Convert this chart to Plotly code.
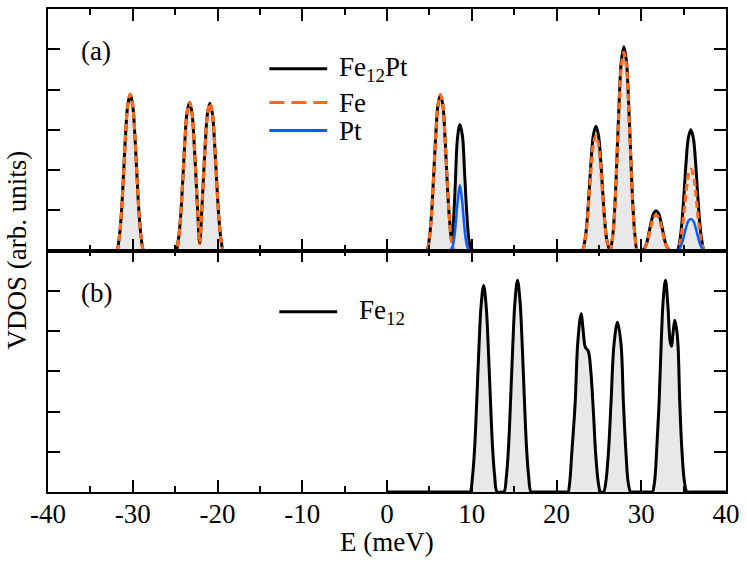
import plotly.graph_objects as go
from plotly.subplots import make_subplots

# (a) Fe12Pt total VDOS (black)
fe12pt_x = [-37.2,
            -32.2, -31.9, -31.6, -31.35, -31.1, -30.85, -30.6, -30.3, -30.0, -29.75, -29.5, -29.25, -29.0, -28.7, -28.4,
            -25.2, -24.9, -24.6, -24.35, -24.1, -23.85, -23.6, -23.3, -23.0, -22.75, -22.5, -22.3, -22.1, -21.9, -21.7,
            -21.45, -21.2, -20.9, -20.6, -20.35, -20.1, -19.85, -19.6, -19.3, -19.0,
            4.4, 4.7, 5.0, 5.25, 5.5, 5.75, 6.0, 6.3, 6.6, 6.85, 7.1, 7.35, 7.65, 7.85, 8.05, 8.3, 8.6, 8.9, 9.15, 9.4,
            9.65, 9.9, 10.2, 10.5,
            22.75, 23.05, 23.35, 23.6, 23.85, 24.1, 24.35, 24.65, 24.95, 25.2, 25.45, 25.7, 25.95, 26.3, 26.65, 26.9,
            27.15, 27.4, 27.65, 27.95, 28.25, 28.5, 28.75, 29.0, 29.25, 29.55, 29.85,
            30.15, 30.45, 30.7, 30.95, 31.2, 31.45, 31.75, 32.05, 32.3, 32.55, 32.8, 33.05, 33.35, 33.65,
            33.95, 34.25, 34.55, 34.8, 35.05, 35.3, 35.55, 35.85, 36.15, 36.4, 36.65, 36.9, 37.15, 37.45, 37.75, 40.0]
fe12pt_y = [0,
            0, 0, 0.31, 0.9, 1.85, 2.87, 3.6, 3.88, 3.6, 2.87, 1.85, 0.9, 0.31, 0, 0,
            0, 0, 0.29, 0.85, 1.75, 2.72, 3.42, 3.68, 3.4, 2.65, 1.66, 0.8, 0.17, 0.8, 1.65,
            2.62, 3.38, 3.66, 3.4, 2.7, 1.74, 0.85, 0.29, 0, 0,
            0, 0, 0.31, 0.9, 1.84, 2.86, 3.59, 3.87, 3.59, 2.8, 1.74, 0.85, 0.22, 0.75, 1.6, 2.75, 3.13, 2.85, 1.95, 0.97,
            0.3, 0.05, 0, 0,
            0, 0, 0.25, 0.72, 1.47, 2.28, 2.87, 3.09, 2.87, 2.28, 1.47, 0.72, 0.25, 0, 0.4, 1.17,
            2.41, 3.74, 4.7, 5.06, 4.7, 3.74, 2.41, 1.17, 0.4, 0, 0,
            0, 0.08, 0.23, 0.48, 0.73, 0.92, 0.99, 0.92, 0.73, 0.48, 0.23, 0.08, 0, 0,
            0, 0, 0.24, 0.7, 1.43, 2.22, 2.79, 3.0, 2.79, 2.22, 1.43, 0.7, 0.24, 0, 0, 0]

# (a) Fe partial VDOS (orange dashed)
fe_x = [-37.2,
        -32.2, -31.9, -31.6, -31.35, -31.1, -30.85, -30.6, -30.3, -30.0, -29.75, -29.5, -29.25, -29.0, -28.7, -28.4,
        -25.2, -24.9, -24.6, -24.35, -24.1, -23.85, -23.6, -23.3, -23.0, -22.75, -22.5, -22.3, -22.1, -21.9, -21.7,
        -21.45, -21.2, -20.9, -20.6, -20.35, -20.1, -19.85, -19.6, -19.3, -19.0,
        4.4, 4.7, 5.0, 5.25, 5.5, 5.75, 6.0, 6.3, 6.6, 6.85, 7.1, 7.35, 7.6, 7.9, 8.2,
        22.75, 23.05, 23.35, 23.6, 23.85, 24.1, 24.35, 24.65, 24.95, 25.2, 25.45, 25.7, 25.95, 26.3, 26.65, 26.9,
        27.15, 27.4, 27.65, 27.95, 28.25, 28.5, 28.75, 29.0, 29.25, 29.55, 29.85,
        30.15, 30.45, 30.7, 30.95, 31.2, 31.45, 31.75, 32.05, 32.3, 32.55, 32.8, 33.05, 33.35, 33.65,
        33.95, 34.25, 34.55, 34.8, 35.05, 35.3, 35.55, 35.85, 36.15, 36.4, 36.65, 36.9, 37.15, 37.45, 37.75, 40.0]
fe_y = [0,
        0, 0, 0.31, 0.9, 1.85, 2.87, 3.6, 3.88, 3.6, 2.87, 1.85, 0.9, 0.31, 0, 0,
        0, 0, 0.29, 0.85, 1.75, 2.72, 3.42, 3.68, 3.4, 2.65, 1.66, 0.8, 0.17, 0.8, 1.65,
        2.62, 3.38, 3.66, 3.4, 2.7, 1.74, 0.85, 0.29, 0, 0,
        0, 0, 0.31, 0.9, 1.84, 2.86, 3.59, 3.87, 3.59, 2.8, 1.74, 0.85, 0.25, 0.02, 0,
        0, 0, 0.23, 0.66, 1.35, 2.1, 2.64, 2.85, 2.64, 2.1, 1.35, 0.66, 0.23, 0, 0.39, 1.13,
        2.34, 3.64, 4.57, 4.92, 4.57, 3.64, 2.34, 1.13, 0.39, 0, 0,
        0, 0.07, 0.2, 0.42, 0.65, 0.82, 0.88, 0.82, 0.65, 0.42, 0.2, 0.07, 0, 0,
        0, 0, 0.16, 0.47, 0.96, 1.49, 1.88, 2.02, 1.88, 1.49, 0.96, 0.47, 0.16, 0, 0, 0]

# (a) Pt partial VDOS (blue)
pt_x = [-37.2, 7.1, 7.4, 7.7, 7.95, 8.15, 8.35, 8.6, 8.85, 9.05, 9.25, 9.5, 9.8, 10.1,
        33.95, 34.25, 34.55, 34.8, 35.05, 35.3, 35.55, 35.85, 36.15, 36.4, 36.65, 36.9, 37.15, 37.45, 37.75, 40.0]
pt_y = [0, 0, 0, 0.08, 0.35, 0.78, 1.25, 1.62, 1.25, 0.78, 0.35, 0.08, 0, 0,
        0, 0, 0.06, 0.18, 0.37, 0.58, 0.73, 0.78, 0.73, 0.58, 0.37, 0.18, 0.06, 0, 0, 0]

# (b) Fe12 VDOS
fe12_x = [0.0, 9.5, 9.8, 10.1, 10.35, 10.6, 10.85, 11.1, 11.4, 11.7, 11.95, 12.2, 12.45, 12.7, 13.0, 13.5,
          13.8, 14.1, 14.35, 14.6, 14.85, 15.1, 15.4, 15.7, 15.95, 16.2, 16.45, 16.7, 17.0, 17.3,
          21.05, 21.35, 21.55, 21.8, 22.2, 22.5, 22.9, 23.15, 23.4, 23.75, 24.05, 24.35, 24.62, 24.94, 25.2,
          25.55, 25.8, 26.12, 26.43, 26.79, 27.2, 27.61, 27.9, 28.2, 28.47, 28.75, 29.05,
          31.0, 31.3, 31.55, 31.8, 32.1, 32.35, 32.6, 32.86, 33.15, 33.4, 33.57, 33.75, 33.96, 34.2, 34.35,
          34.55, 34.82, 35.1, 35.4, 35.7, 40.0]
fe12_y = [0, 0, 0, 0.41, 1.13, 2.31, 3.59, 4.62, 5.13, 4.62, 3.59, 2.31, 1.13, 0.41, 0, 0,
          0, 0.42, 1.16, 2.37, 3.68, 4.73, 5.26, 4.73, 3.68, 2.37, 1.16, 0.42, 0, 0,
          0, 0, 0.22, 0.96, 2.2, 3.68, 4.43, 4.0, 3.6, 3.5, 3.0, 2.0, 0.96, 0.22, 0,
          0, 0.22, 0.96, 2.2, 3.68, 4.22, 3.68, 2.2, 0.96, 0.22, 0, 0,
          0, 0, 0.22, 0.96, 2.2, 3.68, 4.8, 5.26, 4.6, 3.75, 3.62, 3.95, 4.27, 4.0, 3.6,
          2.2, 0.96, 0.25, 0, 0, 0]

x_major = [-40, -30, -20, -10, 0, 10, 20, 30, 40]
x_labels = ["-40", "-30", "-20", "-10", "0", "10", "20", "30", "40"]
x_minor = [-35, -25, -15, -5, 5, 15, 25, 35]

BLACK = "black"
ORANGE = "#ff6a1a"
BLUE = "#0a5cff"
FILL = "#e8e8e8"
FONT = '"Liberation Serif", "Times New Roman", "DejaVu Serif", serif'
FSIZE = 27

fig = make_subplots(rows=2, cols=1, shared_xaxes=True, vertical_spacing=0)

for row, (x, y) in [(1, (fe12pt_x, fe12pt_y)), (2, (fe12_x, fe12_y))]:
    fig.add_trace(go.Scatter(x=x, y=y, mode="lines", fill="tozeroy", fillcolor=FILL,
                             line=dict(width=0, shape="spline", color=FILL), hoverinfo="skip"),
                  row=row, col=1)

fig.add_trace(go.Scatter(x=fe12pt_x, y=fe12pt_y, mode="lines", name="Fe12Pt",
                         line=dict(color=BLACK, width=3, shape="spline")), row=1, col=1)
fig.add_trace(go.Scatter(x=fe_x, y=fe_y, mode="lines", name="Fe",
                         line=dict(color=ORANGE, width=3.2, shape="spline", dash="7px,4px")), row=1, col=1)
fig.add_trace(go.Scatter(x=pt_x, y=pt_y, mode="lines", name="Pt",
                         line=dict(color=BLUE, width=2.5, shape="spline")), row=1, col=1)
fig.add_trace(go.Scatter(x=fe12_x, y=fe12_y, mode="lines", name="Fe12",
                         line=dict(color=BLACK, width=3, shape="spline")), row=2, col=1)

axis_common = dict(showline=True, linecolor="black", linewidth=1.5, mirror="allticks",
                   ticks="inside", tickcolor="black", tickwidth=1.5, showgrid=False, zeroline=False)

fig.update_xaxes(range=[-40, 40], tickmode="array", tickvals=x_major, ticktext=x_labels, ticklen=12,
                 minor=dict(tickvals=x_minor, ticks="inside", ticklen=6, tickcolor="black", tickwidth=1.5),
                 tickfont=dict(family=FONT, size=FSIZE, color="black"), ticklabelstandoff=-3,
                 **axis_common)
fig.update_xaxes(showticklabels=False, row=1, col=1)
fig.update_yaxes(range=[0, 6], tickmode="array", tickvals=[0, 1, 2, 3, 4, 5, 6], ticklen=12,
                 showticklabels=False, **axis_common)

txt = dict(family=FONT, size=FSIZE, color="black")
annotations = [
    dict(text="(a)", x=0.0456, y=0.913, xanchor="left", yanchor="middle"),
    dict(text="(b)", x=0.0456, y=0.411, xanchor="left", yanchor="middle"),
    dict(text="Fe<sub>12</sub>Pt", x=0.4265, y=0.876, xanchor="left", yanchor="middle"),
    dict(text="Fe", x=0.4265, y=0.806, xanchor="left", yanchor="middle"),
    dict(text="Pt", x=0.4265, y=0.748, xanchor="left", yanchor="middle"),
    dict(text="Fe<sub>12</sub>", x=0.4559, y=0.373, xanchor="left", yanchor="middle"),
    dict(text="E (meV)", x=0.5, y=0, yshift=-50, xanchor="center", yanchor="middle"),
    dict(text="VDOS (arb. units)", x=0, xshift=-32, y=0.5, textangle=-90, xanchor="center", yanchor="middle"),
]
for a in annotations:
    fig.add_annotation(xref="paper", yref="paper", showarrow=False, font=txt, **a)

legend_lines = [
    (0.3265, 0.4118, 0.8763, BLACK, "solid"),
    (0.3265, 0.4118, 0.8062, ORANGE, "15px,7px"),
    (0.3265, 0.4118, 0.7485, BLUE, "solid"),
    (0.3412, 0.4265, 0.3732, BLACK, "solid"),
]
for x0, x1, yy, color, dash in legend_lines:
    fig.add_shape(type="line", xref="paper", yref="paper", x0=x0, x1=x1, y0=yy, y1=yy,
                  line=dict(color=color, width=3, dash=dash))

fig.update_layout(
    width=747, height=563,
    margin=dict(l=48, r=19, t=7, b=71),
    plot_bgcolor="white", paper_bgcolor="white",
    showlegend=False,
    font=dict(family=FONT, size=FSIZE, color="black"),
)

# drop the default 8px body margin so the figure sits at the window's corner
fig.write_html("out.html", config={"displayModeBar": False},
               post_script="document.body.style.margin = '0';")
